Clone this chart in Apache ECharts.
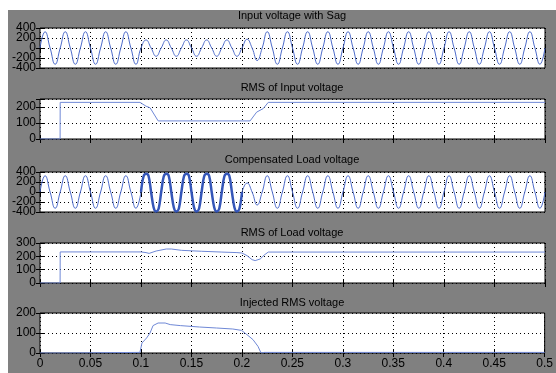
<!DOCTYPE html>
<html><head><meta charset="utf-8">
<script src="https://cdn.jsdelivr.net/npm/echarts@6/dist/echarts.min.js"></script>
<style>
html,body{margin:0;padding:0;background:#fff;width:556px;height:373px;overflow:hidden}
#c{position:absolute;left:8px;top:10px;width:548px;height:363px;background:#808080}
</style></head><body><div id="c"></div>
<script>
// ---------- data ----------
const titles = ['Input voltage with Sag', 'RMS of Input voltage', 'Compensated Load voltage', 'RMS of Load voltage', 'Injected RMS voltage'];
const xTickLabels = ['0', '0.05', '0.1', '0.15', '0.2', '0.25', '0.3', '0.35', '0.4', '0.45', '0.5'];

// waveforms sampled every quarter cycle (0.005 s) from 0 to 0.5 s
const waveStep = 0.005;
const inputVoltage = [
  0,325,0,-325, 0,325,0,-325, 0,325,0,-325, 0,325,0,-325, 0,325,0,-325,
  0,160,0,-165, 0,160,0,-165, 0,160,0,-165, 0,160,0,-165, 0,160,0,-165,
  0,175,0,-250,
  0,325,0,-325, 0,325,0,-325, 0,325,0,-325, 0,325,0,-325, 0,325,0,-325,
  0,325,0,-325, 0,325,0,-325, 0,325,0,-325, 0,325,0,-325, 0,325,0,-325,
  0,325,0,-325, 0,325,0,-325, 0,325,0,-325, 0,325,0,-325,
  0
];
const loadVoltage = [
  0,325,0,-325, 0,325,0,-325, 0,325,0,-325, 0,325,0,-325, 0,325,0,-325,
  0,null,null,null, null,null,null,null, null,null,null,null, null,null,null,null, null,null,null,null,
  0,180,0,-260,
  0,325,0,-325, 0,325,0,-325, 0,325,0,-325, 0,325,0,-325, 0,325,0,-325,
  0,325,0,-325, 0,325,0,-325, 0,325,0,-325, 0,325,0,-325, 0,325,0,-325,
  0,325,0,-325, 0,325,0,-325, 0,325,0,-325, 0,325,0,-325,
  0
];
// compensated segment 0.1 .. 0.2 s, sampled every eighth cycle (0.0025 s)
const compStart = 0.1;
const compStep = 0.0025;
const compensatedSag = [
  0,310,365,320,0,-310,-390,-330,
  0,310,365,320,0,-310,-390,-330,
  0,310,365,320,0,-310,-390,-330,
  0,310,365,320,0,-310,-390,-330,
  0,310,365,320,0,-310,-390,-330,
  0
];

const rmsInputT = [0, 0.0199, 0.02, 0.099, 0.105, 0.109, 0.117, 0.208, 0.2145, 0.221, 0.226, 0.5];
const rmsInputV = [0, 0, 229, 229, 205, 195, 113, 113, 168, 190, 229, 229];

const rmsLoadT = [0, 0.0199, 0.02, 0.1, 0.105, 0.108, 0.115, 0.125, 0.13, 0.14, 0.16, 0.18, 0.195, 0.2, 0.205, 0.21, 0.213, 0.218, 0.222, 0.226, 0.5];
const rmsLoadV = [0, 0, 233, 233, 228, 222, 240, 255, 255, 245, 238, 232, 228, 225, 205, 175, 168, 180, 210, 232, 232];

const injT = [0, 0.02, 0.021, 0.099, 0.101, 0.1056, 0.109, 0.112, 0.117, 0.124, 0.129, 0.139, 0.158, 0.175, 0.191, 0.1997, 0.205, 0.211, 0.216, 0.219, 0.222, 0.5];
const injV = [0, 0, 3, 3, 50, 75, 100, 137, 150, 150, 142, 137, 130, 125, 120, 113, 92, 67, 33, 0, 3, 3];

// [min, max, tick interval]
const yRanges = [[-400, 400, 200], [0, 250, 100], [-400, 400, 200], [0, 300, 100], [0, 200, 100]];
// labels drawn by the main axis / by the secondary label axis
const yLabelsMain = [[-400, 0, 400], [0, 100, 200], [-400, 0, 400], [0, 100, 200, 300], [0, 100, 200]];
const yLabelsExtra = [[-200, 200], [], [-200, 200], [], []];

// ---------- chart ----------
const gridTops = [18, 89, 162, 233, 303];
const titleTops = [0, 72, 144, 217, 287];
const FONT = 'Arial, "Liberation Sans", sans-serif';
const waveColor = '#4e6ccb';
const rmsColor = '#6f88d6';

function pairs(ts, vs) { return ts.map((t, i) => [t, vs[i]]); }
function stepPairs(start, step, vs) { return vs.map((v, i) => [+(start + i * step).toFixed(5), v]); }

const grids = [], xAxes = [], yAxes = [], graphics = [];
gridTops.forEach((top, i) => {
  grids.push({ left: 32, right: 11, top: top, height: 40, show: true, backgroundColor: '#fff', borderColor: '#000', borderWidth: 1 });
  const tick = { show: true, inside: true, length: 4, lineStyle: { color: '#000', width: 1 } };
  const dotted = { show: true, lineStyle: { color: '#000', type: [1, 3], width: 1 } };
  xAxes.push({
    type: 'value', gridIndex: i, min: 0, max: 0.5, interval: 0.05, position: 'bottom',
    axisLine: { show: false }, axisTick: tick,
    axisLabel: { show: i === 4, color: '#000', fontSize: 12, fontFamily: FONT, margin: 5,
      showMinLabel: true, showMaxLabel: true,
      formatter: v => xTickLabels[Math.round(v / 0.05)] },
    splitLine: dotted
  });
  xAxes.push({
    type: 'value', gridIndex: i, min: 0, max: 0.5, interval: 0.05, position: 'top',
    axisLine: { show: false }, axisTick: tick, axisLabel: { show: false }, splitLine: { show: false }
  });
  const [mn, mx, iv] = yRanges[i];
  const mainSet = yLabelsMain[i], extraSet = yLabelsExtra[i];
  // axis 3i: ticks, grid lines and main labels
  yAxes.push({
    type: 'value', gridIndex: i, min: mn, max: mx, interval: iv, position: 'left',
    axisLine: { show: false }, axisTick: tick,
    axisLabel: { color: '#000', fontSize: 12, fontFamily: FONT, margin: 4, showMinLabel: true, showMaxLabel: true,
      formatter: v => (mainSet.indexOf(v) >= 0 ? String(v) : '') },
    splitLine: dotted
  });
  // axis 3i+1: right-side ticks
  yAxes.push({
    type: 'value', gridIndex: i, min: mn, max: mx, interval: iv, position: 'right',
    axisLine: { show: false }, axisTick: tick, axisLabel: { show: false }, splitLine: { show: false }
  });
  // axis 3i+2: extra labels that sit between the main ones
  yAxes.push({
    type: 'value', gridIndex: i, min: mn, max: mx, interval: iv, position: 'left', offset: 0,
    show: extraSet.length > 0,
    axisLine: { show: false }, axisTick: { show: false }, splitLine: { show: false },
    axisLabel: { color: '#000', fontSize: 12, fontFamily: FONT, margin: 4, showMinLabel: false, showMaxLabel: false,
      formatter: v => (extraSet.indexOf(v) >= 0 ? String(v) : '') }
  });
  graphics.push({
    type: 'text', x: 284, y: titleTops[i],
    style: { text: titles[i], fill: '#000', font: '11px ' + FONT, textAlign: 'center', textVerticalAlign: 'top' }
  });
});

function line(i, data, color, width, smooth) {
  return { type: 'line', xAxisIndex: 2 * i, yAxisIndex: 3 * i, data: data, showSymbol: false, symbol: 'none',
    smooth: smooth, connectNulls: false, lineStyle: { color: color, width: width }, animation: false, silent: true };
}

const series = [
  line(0, stepPairs(0, waveStep, inputVoltage), waveColor, 1, 0.5),
  line(1, pairs(rmsInputT, rmsInputV), rmsColor, 1, false),
  line(2, stepPairs(0, waveStep, loadVoltage), waveColor, 1, 0.5),
  line(2, stepPairs(compStart, compStep, compensatedSag), '#3556b8', 2.5, 0.35),
  line(3, pairs(rmsLoadT, rmsLoadV), rmsColor, 1, false),
  line(4, pairs(injT, injV), rmsColor, 1, false)
];

const chart = echarts.init(document.getElementById('c'), null, { renderer: 'canvas' });
chart.setOption({
  animation: false,
  backgroundColor: '#808080',
  grid: grids, xAxis: xAxes, yAxis: yAxes, series: series, graphic: graphics
});
</script></body></html>
